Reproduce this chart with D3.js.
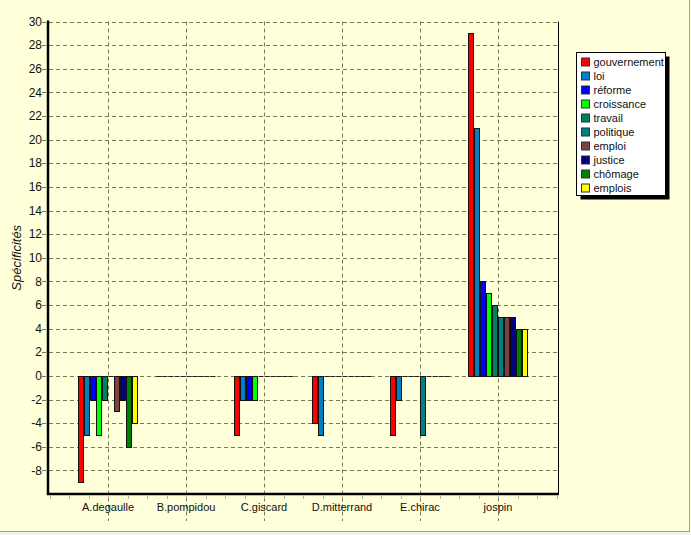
<!DOCTYPE html>
<html>
<head>
<meta charset="utf-8">
<script src="https://cdn.jsdelivr.net/npm/d3@7"></script>
<style>
  body { margin: 0; background: #ffffd9; }
  svg { display: block; font-family: "Liberation Sans", Arial, sans-serif; }
</style>
</head>
<body>
<div class="visHolder"></div>
<script>
const w = 691, h = 535;
const plot = {left: 48, right: 558, top: 21.5, bottom: 494};

// data
const categories = ['A.degaulle', 'B.pompidou', 'C.giscard', 'D.mitterrand', 'E.chirac', 'jospin'];
const series = ['gouvernement', 'loi', 'réforme', 'croissance', 'travail', 'politique', 'emploi', 'justice', 'chômage', 'emplois'];
const colors = ['#ff0000', '#0080c0', '#0000ff', '#00ff00', '#008060', '#008080', '#804040', '#000080', '#008000', '#ffff00'];

const gouvernement = [-9, 0, -5, -4, -5, 29];
const loi          = [-5, 0, -2, -5, -2, 21];
const reforme      = [-2, 0, -2, 0, 0, 8];
const croissance   = [-5, 0, -2, 0, 0, 7];
const travail      = [-2, 0, 0, 0, 0, 6];
const politique    = [0, 0, 0, 0, -5, 5];
const emploi       = [-3, 0, 0, 0, 0, 5];
const justice      = [-2, 0, 0, 0, 0, 5];
const chomage      = [-6, 0, 0, 0, 0, 4];
const emplois      = [-4, 0, 0, 0, 0, 4];
const values = [gouvernement, loi, reforme, croissance, travail, politique, emploi, justice, chomage, emplois];

const yTicks = [30, 28, 26, 24, 22, 20, 18, 16, 14, 12, 10, 8, 6, 4, 2, 0, -2, -4, -6, -8];

// flat list of bars built from the arrays above
const barData = [];
series.forEach((s, i) => {
  values[i].forEach((v, j) => barData.push({series: s, color: colors[i], category: categories[j], value: v}));
});

const svg = d3.select('.visHolder')
  .append('svg')
  .attr('width', w)
  .attr('height', h);

// window frame
svg.append('rect').attr('width', w).attr('height', h).attr('fill', '#ffffd9');
svg.append('line').attr('x1', 0).attr('x2', 690).attr('y1', 531.5).attr('y2', 531.5).attr('stroke', '#a0a0a0');
svg.append('line').attr('x1', 689.5).attr('x2', 689.5).attr('y1', 0).attr('y2', 532).attr('stroke', '#a0a0a0');
svg.append('rect').attr('x', 0).attr('y', 532).attr('width', w).attr('height', 3).attr('fill', '#f0f0f0');

const xScale = d3.scalePoint()
  .domain(categories)
  .range([plot.left, plot.right])
  .padding(0.77);

const inner = d3.scaleBand()
  .domain(series)
  .range([-30, 30]);

const yScale = d3.scaleLinear()
  .domain([-10, 30])
  .range([plot.bottom, plot.top]);

const gridColor = '#7a7a5a';

// horizontal grid (ticks stick out left of the axis)
svg.append('g')
  .selectAll('line')
  .data(yTicks)
  .join('line')
    .attr('x1', plot.left - 6)
    .attr('x2', plot.right)
    .attr('y1', d => Math.round(yScale(d)) + 0.5)
    .attr('y2', d => Math.round(yScale(d)) + 0.5)
    .attr('stroke', gridColor)
    .attr('stroke-dasharray', '4,3');

// vertical grid at category centers, running through the labels
svg.append('g')
  .selectAll('line')
  .data(categories)
  .join('line')
    .attr('x1', d => Math.round(xScale(d)) + 0.5)
    .attr('x2', d => Math.round(xScale(d)) + 0.5)
    .attr('y1', plot.top)
    .attr('y2', 521)
    .attr('stroke', gridColor)
    .attr('stroke-dasharray', '4,3');

// minor ticks under the x axis
const step = xScale.step() / 4;
const minor = d3.range(plot.left + 2, plot.right + 1, step);
svg.append('g')
  .selectAll('line')
  .data(minor)
  .join('line')
    .attr('x1', d => Math.round(d) + 0.5)
    .attr('x2', d => Math.round(d) + 0.5)
    .attr('y1', plot.bottom + 2)
    .attr('y2', plot.bottom + 5)
    .attr('stroke', '#b0b0a0');

// bars
const barX = d => Math.round(xScale(d.category) + inner(d.series)) + 0.5;
const y0 = Math.round(yScale(0)) + 0.5;

svg.append('g')
  .selectAll('rect')
  .data(barData.filter(d => d.value !== 0))
  .join('rect')
    .attr('x', barX)
    .attr('width', inner.bandwidth() - 1)
    .attr('y', d => Math.round(yScale(Math.max(d.value, 0))) + 0.5)
    .attr('height', d => Math.abs(Math.round(yScale(d.value)) - Math.round(yScale(0))))
    .attr('fill', d => d.color)
    .attr('stroke', '#111');

// zero values show as a flat dark line on the zero grid
svg.append('g')
  .selectAll('line')
  .data(barData.filter(d => d.value === 0))
  .join('line')
    .attr('x1', barX)
    .attr('x2', d => barX(d) + inner.bandwidth() - 1)
    .attr('y1', y0)
    .attr('y2', y0)
    .attr('stroke', '#222');

// axes frame
svg.append('line').attr('x1', plot.right + 0.5).attr('x2', plot.right + 0.5)
  .attr('y1', plot.top).attr('y2', plot.bottom).attr('stroke', '#000');
svg.append('line').attr('x1', plot.left).attr('x2', plot.left)
  .attr('y1', plot.top - 1).attr('y2', plot.bottom + 1).attr('stroke', '#000').attr('stroke-width', 2.5);
svg.append('line').attr('x1', plot.left - 1).attr('x2', plot.right + 1)
  .attr('y1', plot.bottom).attr('y2', plot.bottom).attr('stroke', '#000').attr('stroke-width', 2.5);

// y tick labels
svg.append('g')
  .selectAll('text')
  .data(yTicks)
  .join('text')
    .attr('x', plot.left - 6)
    .attr('y', d => yScale(d))
    .attr('dy', '0.35em')
    .attr('text-anchor', 'end')
    .attr('font-size', 12)
    .attr('fill', '#111')
    .text(d => d);

// category labels
svg.append('g')
  .selectAll('text')
  .data(categories)
  .join('text')
    .attr('x', d => xScale(d))
    .attr('y', 511)
    .attr('text-anchor', 'middle')
    .attr('font-size', 11)
    .attr('fill', '#111')
    .text(d => d);

// y title
svg.append('text')
  .attr('transform', `translate(21, ${(plot.top + plot.bottom) / 2}) rotate(-90)`)
  .attr('text-anchor', 'middle')
  .attr('font-size', 13)
  .attr('font-style', 'italic')
  .attr('fill', '#111')
  .text('Spécificités');

// legend
const lg = svg.append('g').attr('transform', 'translate(576.5, 52.5)');
lg.append('rect').attr('x', 4).attr('y', 4).attr('width', 89).attr('height', 143).attr('fill', '#000');
lg.append('rect').attr('width', 89).attr('height', 143).attr('fill', '#fff').attr('stroke', '#000');
const item = lg.selectAll('g.item')
  .data(series)
  .join('g')
    .attr('class', 'item')
    .attr('transform', (d, i) => `translate(5, ${5 + i * 14})`);
item.append('rect')
  .attr('width', 8).attr('height', 8).attr('y', 0.5)
  .attr('fill', (d, i) => colors[i])
  .attr('stroke', '#333');
item.append('text')
  .attr('x', 12)
  .attr('y', 5)
  .attr('dy', '0.35em')
  .attr('font-size', 11)
  .attr('fill', '#111')
  .text(d => d);
</script>
</body>
</html>
